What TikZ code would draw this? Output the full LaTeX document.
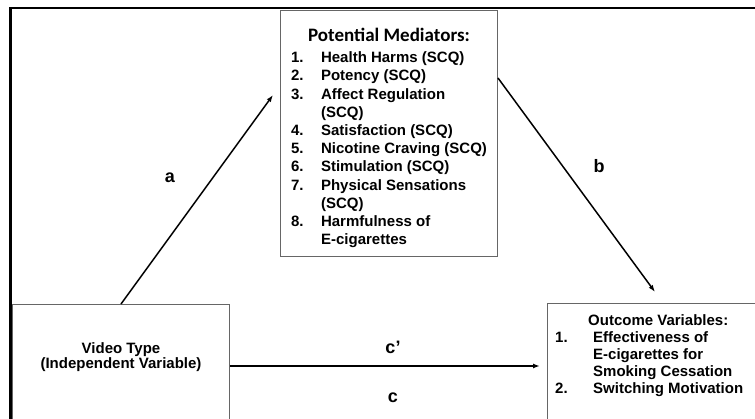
\documentclass[tikz,border=0pt]{standalone}
\usepackage{fontspec}
\setmainfont{Liberation Sans}
\newfontfamily\headfont{Carlito}
\usetikzlibrary{arrows.meta}
\tikzset{
  varbox/.style={draw=black!60, line width=1pt, inner sep=0pt},
  arr/.style={-{Latex[length=7pt,width=5pt]}, line width=1.5pt},
  pathlabel/.style={font=\fontsize{18}{20}\selectfont\bfseries},
  boxtext/.style={font=\fontsize{15}{18.2}\selectfont\bfseries, inner sep=0pt}
}
\begin{document}
\begin{tikzpicture}[x=1pt,y=-1pt]
  \clip (0,0) rectangle (755,419);
  \fill[white] (0,0) rectangle (755,419);
  \draw[line width=2pt] (10,8) -- (760,8);
  \draw[line width=2.8pt] (10.5,425) -- (10.5,7);
  \node[varbox, anchor=north west, minimum width=217pt, minimum height=246pt] (med) at (280,10) {};
  \node[varbox, anchor=north west, minimum width=217pt, minimum height=140pt] (video) at (12,304) {};
  \node[varbox, anchor=north west, minimum width=230pt, minimum height=140pt] (out) at (547,303) {};
  \node[boxtext, anchor=north] (medtext) at ([yshift=-18pt]med.north) {%
    \begin{tabular}{@{}p{30pt}@{}l@{}}
      \multicolumn{2}{@{}c@{}}{\headfont\fontsize{19}{22}\selectfont Potential Mediators:}\\[3pt]
      1. & Health Harms (SCQ)\\
      2. & Potency (SCQ)\\
      3. & Affect Regulation\\
         & (SCQ)\\
      4. & Satisfaction (SCQ)\\
      5. & Nicotine Craving (SCQ)\\
      6. & Stimulation (SCQ)\\
      7. & Physical Sensations\\
         & (SCQ)\\
      8. & Harmfulness of\\
         & E-cigarettes
    \end{tabular}};
  \node[boxtext, align=center, font=\fontsize{15}{15}\selectfont\bfseries] (videotext) at ([yshift=-53pt]video.north) {Video Type\\(Independent Variable)};
  \node[boxtext, anchor=north west, font=\fontsize{15}{17}\selectfont\bfseries] (outtext) at ([xshift=8pt,yshift=-10.5pt]out.north west) {%
    \begin{tabular}{@{}p{38pt}@{}l@{}}
      \multicolumn{2}{@{\hspace{33pt}}l@{}}{Outcome Variables:}\\
      1. & Effectiveness of\\
         & E-cigarettes for\\
         & Smoking Cessation\\
      2. & Switching Motivation
    \end{tabular}};
  \coordinate (atip) at (273,95);
  \coordinate (btip) at (655,292);
  \coordinate (bfoot) at (0,78);
  \coordinate (cline) at (0,366);
  \draw[arr] (video.north) -- (atip);
  \draw[arr] (med.east |- bfoot) -- (btip);
  \draw[arr, shorten >=7pt] (video.east |- cline) -- (out.west |- cline);
  \node[pathlabel] (la) at (170,178) {a};
  \node[pathlabel] (lb) at (599,166) {b};
  \node[pathlabel] (lcp) at (393,347) {c’};
  \node[pathlabel] (lc) at (393,398) {c};
\end{tikzpicture}
\end{document}
